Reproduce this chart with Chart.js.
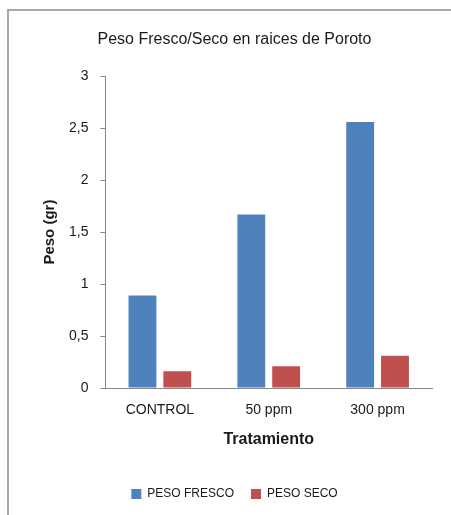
<!DOCTYPE html>
<html>
<head>
<meta charset="utf-8">
<script src="https://cdn.jsdelivr.net/npm/chart.js@4"></script>
<style>
  html, body { margin: 0; padding: 0; background: #fff; }
  #wrap { position: relative; width: 451px; height: 515px; }
</style>
</head>
<body>
<div id="wrap"><canvas id="grafPeso" width="451" height="515"></canvas></div>
<script>
// datos
const tratamientos = ['CONTROL', '50 ppm', '300 ppm'];
const pesoFresco = [0.89, 1.67, 2.56];
const pesoSeco = [0.16, 0.21, 0.31];
const marcasY = [0, 0.5, 1, 1.5, 2, 2.5, 3];

const fuente = "'Liberation Sans', Arial, sans-serif";

// marco gris del area del grafico (como en la hoja original)
const marco = {
    id: 'marco',
    beforeDraw(chart) {
        const ctx = chart.ctx;
        ctx.save();
        ctx.fillStyle = '#fff';
        ctx.fillRect(0, 0, chart.width, chart.height);
        ctx.strokeStyle = '#a8a8a8';
        ctx.lineWidth = 2;
        ctx.beginPath();
        ctx.moveTo(8, chart.height);
        ctx.lineTo(8, 10);
        ctx.lineTo(chart.width, 10);
        ctx.stroke();
        ctx.restore();
    }
};

const ctx = document.getElementById('grafPeso');
new Chart(ctx, {
    type: 'bar',
    data: {
        labels: tratamientos,
        datasets: [
            {
                label: 'PESO FRESCO',
                data: pesoFresco,
                backgroundColor: '#4F81BD',
                categoryPercentage: 0.64,
                barPercentage: 0.8
            },
            {
                label: 'PESO SECO',
                data: pesoSeco,
                backgroundColor: '#C0504D',
                categoryPercentage: 0.64,
                barPercentage: 0.8
            }
        ]
    },
    options: {
        responsive: false,
        animation: false,
        layout: { padding: { left: 37, right: 19, top: 0, bottom: 5 } },
        plugins: {
            title: {
                display: true,
                text: 'Peso Fresco/Seco en raices de Poroto',
                color: '#1a1a1a',
                font: { family: fuente, size: 16, weight: 'normal' },
                padding: { top: 30, bottom: 27 }
            },
            legend: {
                position: 'bottom',
                labels: {
                    boxWidth: 10,
                    boxHeight: 10,
                    padding: 17,
                    color: '#1a1a1a',
                    font: { family: fuente, size: 12 }
                }
            },
            tooltip: { enabled: false }
        },
        scales: {
            x: {
                grid: { display: false, drawTicks: false },
                border: { color: '#868686', width: 1 },
                ticks: {
                    color: '#1a1a1a',
                    padding: 14,
                    font: { family: fuente, size: 14 }
                },
                title: {
                    display: true,
                    text: 'Tratamiento',
                    color: '#1a1a1a',
                    font: { family: fuente, size: 16, weight: 'bold' },
                    padding: { top: -3, bottom: 22 }
                }
            },
            y: {
                min: 0,
                max: 3,
                afterBuildTicks(axis) {
                    axis.ticks = marcasY.map(v => ({ value: v }));
                },
                grid: {
                    drawOnChartArea: false,
                    drawTicks: true,
                    tickLength: 5,
                    color: '#868686'
                },
                border: { color: '#868686', width: 1 },
                ticks: {
                    color: '#1a1a1a',
                    padding: 12,
                    font: { family: fuente, size: 14 },
                    callback: v => String(v).replace('.', ',')
                },
                title: {
                    display: true,
                    text: 'Peso (gr)',
                    color: '#1a1a1a',
                    font: { family: fuente, size: 15, weight: 'bold' },
                    padding: { top: 4, bottom: -2 }
                }
            }
        }
    },
    plugins: [marco]
});
</script>
</body>
</html>
